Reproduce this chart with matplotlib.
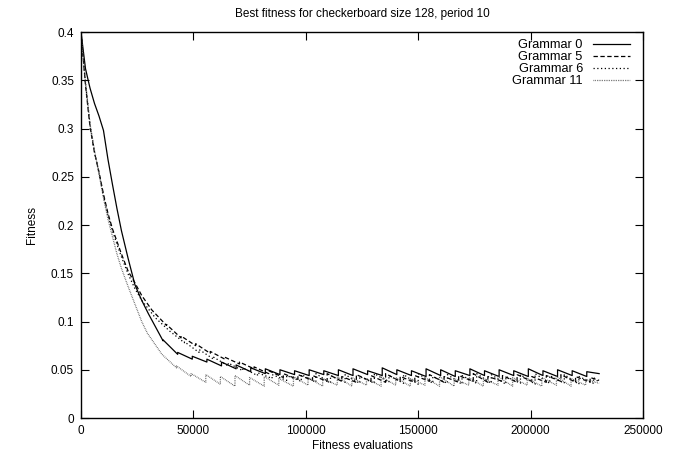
import numpy as np
import matplotlib.pyplot as plt

plt.rcParams['font.family'] = ['Liberation Sans', 'DejaVu Sans']

# early part of the run, before the periodic changes show up
decay_x = [0, 2000, 4000, 6000, 8000, 10000, 12000, 14000, 16000, 18000, 21000, 24000, 27000]
decay_g0 = [0.400, 0.362, 0.342, 0.326, 0.313, 0.298, 0.268, 0.242, 0.217, 0.194, 0.165, 0.138, 0.122]
decay_g5 = [0.400, 0.345, 0.302, 0.275, 0.255, 0.232, 0.212, 0.196, 0.183, 0.170, 0.152, 0.140, 0.127]
decay_g6 = [0.400, 0.347, 0.304, 0.276, 0.254, 0.230, 0.210, 0.194, 0.180, 0.167, 0.149, 0.134, 0.122]
decay_g11 = [0.400, 0.348, 0.305, 0.277, 0.253, 0.228, 0.206, 0.188, 0.170, 0.155, 0.136, 0.118, 0.100]

# evaluations where the checkerboard changes (each run is a bit out of step)
switch_g0 = list(range(30000, 225001, 6500))
switch_g5 = list(range(31500, 226501, 6500))
switch_g6 = list(range(33000, 228001, 6500))
switch_g11 = list(range(29500, 224501, 6500))
end_x = 230500

# fitness right after each change (top) and just before the next one (bottom)
top_g0 = [0.108, 0.081, 0.068, 0.064, 0.061, 0.058, 0.055, 0.052, 0.051, 0.050, 0.049,
          0.050, 0.049, 0.050, 0.051, 0.049, 0.052, 0.050, 0.049, 0.051, 0.050, 0.049,
          0.051, 0.049, 0.050, 0.049, 0.051, 0.049, 0.050, 0.049, 0.048]
bot_g0 = [0.080, 0.066, 0.061, 0.058, 0.054, 0.051, 0.048, 0.046, 0.045, 0.045, 0.044,
          0.045, 0.044, 0.044, 0.045, 0.044, 0.045, 0.044, 0.043, 0.044, 0.043, 0.044,
          0.044, 0.043, 0.044, 0.043, 0.044, 0.043, 0.044, 0.043, 0.046]
top_g5 = [0.112, 0.097, 0.085, 0.077, 0.069, 0.063, 0.058, 0.053, 0.049, 0.046, 0.045,
          0.044, 0.046, 0.043, 0.045, 0.044, 0.046, 0.043, 0.044, 0.045, 0.043, 0.044,
          0.046, 0.043, 0.044, 0.045, 0.043, 0.044, 0.045, 0.043, 0.042]
bot_g5 = [0.096, 0.083, 0.075, 0.067, 0.061, 0.056, 0.051, 0.046, 0.042, 0.040, 0.039,
          0.038, 0.038, 0.037, 0.038, 0.037, 0.038, 0.037, 0.038, 0.037, 0.037, 0.038,
          0.037, 0.038, 0.037, 0.038, 0.037, 0.038, 0.037, 0.037, 0.039]
top_g6 = [0.104, 0.090, 0.079, 0.071, 0.063, 0.057, 0.052, 0.047, 0.045, 0.044, 0.045,
          0.046, 0.044, 0.045, 0.043, 0.046, 0.044, 0.045, 0.046, 0.043, 0.045, 0.044,
          0.046, 0.045, 0.043, 0.045, 0.046, 0.044, 0.045, 0.043, 0.042]
bot_g6 = [0.090, 0.078, 0.068, 0.061, 0.054, 0.049, 0.044, 0.041, 0.039, 0.038, 0.037,
          0.036, 0.037, 0.036, 0.036, 0.037, 0.036, 0.035, 0.036, 0.036, 0.035, 0.036,
          0.036, 0.035, 0.036, 0.035, 0.036, 0.036, 0.035, 0.036, 0.037]
top_g11 = [0.088, 0.066, 0.054, 0.046, 0.045, 0.043, 0.044, 0.042, 0.043, 0.041, 0.043,
           0.042, 0.041, 0.043, 0.042, 0.041, 0.043, 0.042, 0.041, 0.042, 0.043, 0.041,
           0.042, 0.041, 0.043, 0.042, 0.041, 0.042, 0.043, 0.041, 0.040]
bot_g11 = [0.066, 0.052, 0.043, 0.037, 0.035, 0.033, 0.034, 0.033, 0.034, 0.033, 0.034,
           0.033, 0.034, 0.033, 0.034, 0.033, 0.034, 0.033, 0.034, 0.033, 0.033, 0.034,
           0.033, 0.034, 0.033, 0.034, 0.033, 0.034, 0.033, 0.034, 0.036]


def build(decay_y, switches, tops, bots):
    xs = list(decay_x)
    ys = list(decay_y)
    ends = switches[1:] + [end_x]
    for x0, x1, t, b in zip(switches, ends, tops, bots):
        xs += [x0, x1]
        ys += [t, b]
    return xs, ys


series = [
    ('Grammar 0', build(decay_g0, switch_g0, top_g0, bot_g0), '-', 'black'),
    ('Grammar 5', build(decay_g5, switch_g5, top_g5, bot_g5), (0, (3.5, 2)), 'black'),
    ('Grammar 6', build(decay_g6, switch_g6, top_g6, bot_g6), (0, (1, 2)), 'black'),
    ('Grammar 11', build(decay_g11, switch_g11, top_g11, bot_g11), (0, (0.6, 0.8)), '#555555'),
]

fig = plt.figure(figsize=(6.83, 4.58), dpi=100)
ax = fig.add_axes([0.1186, 0.0873, 0.8228, 0.8427])

for name, (xs, ys), ls, col in series:
    ax.plot(xs, ys, linestyle=ls, color=col, linewidth=0.9, label=name)

ax.set_xlim(0, 250000)
ax.set_ylim(0, 0.4)
ax.set_xticks(np.arange(0, 250001, 50000))
ax.set_yticks(np.arange(0, 0.401, 0.05))
ax.set_xticklabels(['0', '50000', '100000', '150000', '200000', '250000'])
ax.set_yticklabels(['0', '0.05', '0.1', '0.15', '0.2', '0.25', '0.3', '0.35', '0.4'])
ax.tick_params(direction='in', length=6, width=0.8, top=True, right=True, labelsize=8.5, pad=5)
for s in ax.spines.values():
    s.set_linewidth(1.0)

ax.set_title('Best fitness for checkerboard size 128, period 10', fontsize=8.5, pad=11)
ax.set_xlabel('Fitness evaluations', fontsize=8.5, labelpad=2)
ax.set_ylabel('Fitness', fontsize=8.5, labelpad=9)

ax.legend(loc='upper right', frameon=False, markerfirst=False, fontsize=9.2,
          handlelength=2.9, handletextpad=0.8, labelspacing=0.0,
          borderaxespad=0.3, bbox_to_anchor=(0.993, 1.005))

fig.savefig('out.png', dpi=100)
